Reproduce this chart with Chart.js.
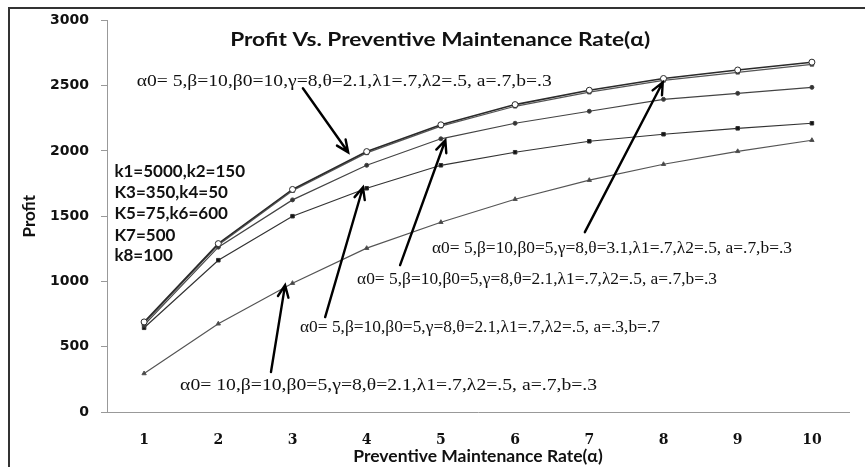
<!DOCTYPE html>
<html>
<head>
<meta charset="utf-8">
<script src="https://cdn.jsdelivr.net/npm/chart.js@4"></script>
<style>
  html, body { margin: 0; padding: 0; background: #fff; }
  #wrap { width: 865px; height: 467px; }
</style>
</head>
<body>
<div id="wrap"><canvas id="profitCanvas" width="865" height="467"></canvas></div>
<script>
// preventive maintenance rate (alpha)
const rates = ['1', '2', '3', '4', '5', '6', '7', '8', '9', '10'];

// profit per curve
const profitBeta010 = [690, 1290, 1705, 1995, 2200, 2355, 2465, 2555, 2620, 2680];
const profitTheta31 = [680, 1280, 1695, 1985, 2190, 2342, 2450, 2540, 2602, 2663];
const profitBase = [665, 1263, 1625, 1890, 2093, 2212, 2304, 2395, 2441, 2487];
const profitA3B7 = [645, 1163, 1500, 1714, 1890, 1990, 2074, 2128, 2173, 2212];
const profitAlpha010 = [295, 676, 987, 1255, 1454, 1630, 1776, 1898, 1997, 2082];

const profitTicks = [0, 500, 1000, 1500, 2000, 2500, 3000];

// labels in chart coordinates: x is the rate (1..10), y is profit.
// width = rendered width in px (the source figure is stretched sideways)
const serif = '16px "Liberation Serif"';
const notes = [
  { text: 'Profit Vs. Preventive Maintenance Rate(\u03b1)', x: 4.99, y: 2847, align: 'center', font: 'bold 19px Lato', width: 420 },
  { text: '\u03b10= 5,\u03b2=10,\u03b20=10,\u03b3=8,\u03b8=2.1,\u03bb1=.7,\u03bb2=.5, a=.7,b=.3', x: 0.90, y: 2533, align: 'left', font: serif, width: 415 },
  { text: '\u03b10= 5,\u03b2=10,\u03b20=5,\u03b3=8,\u03b8=3.1,\u03bb1=.7,\u03bb2=.5, a=.7,b=.3', x: 4.88, y: 1247, align: 'left', font: serif, width: 360 },
  { text: '\u03b10= 5,\u03b2=10,\u03b20=5,\u03b3=8,\u03b8=2.1,\u03bb1=.7,\u03bb2=.5, a=.7,b=.3', x: 3.87, y: 1010, align: 'left', font: serif, width: 360 },
  { text: '\u03b10= 5,\u03b2=10,\u03b20=5,\u03b3=8,\u03b8=2.1,\u03bb1=.7,\u03bb2=.5, a=.3,b=.7', x: 3.10, y: 643, align: 'left', font: serif, width: 360 },
  { text: '\u03b10= 10,\u03b2=10,\u03b20=5,\u03b3=8,\u03b8=2.1,\u03bb1=.7,\u03bb2=.5, a=.7,b=.3', x: 1.485, y: 199, align: 'left', font: serif, width: 417 },
  { text: 'k1=5000,k2=150', x: 0.60, y: 1844, align: 'left', font: 'bold 17px Lato' },
  { text: 'K3=350,k4=50', x: 0.60, y: 1684, align: 'left', font: 'bold 17px Lato' },
  { text: 'K5=75,k6=600', x: 0.60, y: 1523, align: 'left', font: 'bold 17px Lato' },
  { text: 'K7=500', x: 0.60, y: 1355, align: 'left', font: 'bold 17px Lato' },
  { text: 'k8=100', x: 0.60, y: 1202, align: 'left', font: 'bold 17px Lato' }
];

// arrows from each label to its curve
const arrows = [
  { from: [3.14, 2480], to: [3.75, 1990] },
  { from: [6.94, 1378], to: [7.99, 2526] },
  { from: [4.45, 1125], to: [5.06, 2082] },
  { from: [3.44, 727], to: [3.95, 1722] },
  { from: [2.71, 306], to: [2.90, 972] }
];

const notesPlugin = {
  id: 'notes',
  afterDraw(chart) {
    const ctx = chart.ctx;
    const xs = chart.scales.x;
    const ys = chart.scales.y;
    const px = v => xs.getPixelForValue(v - 1);
    const py = v => ys.getPixelForValue(v);

    ctx.save();
    ctx.fillStyle = '#111';
    ctx.textBaseline = 'middle';
    notes.forEach(n => {
      ctx.font = n.font;
      ctx.textAlign = n.align;
      const sx = n.width ? n.width / ctx.measureText(n.text).width : 1;
      ctx.save();
      ctx.translate(px(n.x), py(n.y));
      ctx.scale(sx, 1);
      ctx.fillText(n.text, 0, 0);
      ctx.restore();
    });

    ctx.strokeStyle = '#000';
    ctx.lineWidth = 2.4;
    ctx.lineCap = 'round';
    arrows.forEach(a => {
      const x1 = px(a.from[0]), y1 = py(a.from[1]);
      const x2 = px(a.to[0]), y2 = py(a.to[1]);
      const ang = Math.atan2(y2 - y1, x2 - x1);
      const head = 13;
      ctx.beginPath();
      ctx.moveTo(x1, y1);
      ctx.lineTo(x2, y2);
      ctx.moveTo(x2 - head * Math.cos(ang - 0.42), y2 - head * Math.sin(ang - 0.42));
      ctx.lineTo(x2, y2);
      ctx.lineTo(x2 - head * Math.cos(ang + 0.42), y2 - head * Math.sin(ang + 0.42));
      ctx.stroke();
    });

    // outer frame of the figure
    ctx.strokeStyle = '#333';
    ctx.lineWidth = 2;
    ctx.beginPath();
    ctx.moveTo(9, 470);
    ctx.lineTo(9, 8);
    ctx.lineTo(866, 8);
    ctx.stroke();
    ctx.restore();
  }
};

function series(data, color, width, style, radius, fill) {
  return {
    data,
    borderColor: color,
    borderWidth: width,
    pointStyle: style,
    pointRadius: radius,
    pointBackgroundColor: fill,
    pointBorderColor: color,
    pointBorderWidth: 1,
    tension: 0,
    fill: false
  };
}

new Chart(document.getElementById('profitCanvas'), {
  type: 'line',
  data: {
    labels: rates,
    datasets: [
      series(profitBeta010, '#2a2a2a', 1.6, 'circle', 3, '#fff'),
      series(profitTheta31, '#555', 1.2, 'rect', 2.5, '#333'),
      series(profitBase, '#444', 1.2, 'circle', 2, '#333'),
      series(profitA3B7, '#333', 1.2, 'rect', 2.5, '#111'),
      series(profitAlpha010, '#555', 1.2, 'triangle', 2.5, '#444')
    ]
  },
  options: {
    responsive: false,
    animation: false,
    layout: { padding: { left: 10, right: 16, top: 20, bottom: 0 } },
    plugins: {
      legend: { display: false },
      tooltip: { enabled: false },
      title: { display: false }
    },
    scales: {
      x: {
        offset: true,
        grid: { display: false, drawTicks: false },
        border: { display: true, color: '#999', width: 1 },
        ticks: { padding: 20, color: '#111', font: { family: 'DejaVu Serif', weight: 'bold', size: 14 } },
        title: {
          display: true,
          text: 'Preventive Maintenance Rate(\u03b1)',
          color: '#111',
          font: { family: 'Lato', weight: 'bold', size: 17.5 },
          padding: { top: 0, bottom: 0 }
        },
        afterFit(scale) { scale.height = 55; }
      },
      y: {
        min: 0,
        max: 3000,
        afterBuildTicks(scale) { scale.ticks = profitTicks.map(v => ({ value: v })); },
        grid: { drawOnChartArea: false, drawTicks: true, tickLength: 6, color: '#999' },
        border: { display: true, color: '#999', width: 1 },
        ticks: {
          padding: 12,
          color: '#111',
          font: { family: 'DejaVu Sans', weight: 'bold', size: 14 },
          callback: v => String(v)
        },
        title: {
          display: true,
          text: 'Profit',
          color: '#111',
          font: { family: 'Lato', weight: 'bold', size: 17 },
          padding: { top: 9, bottom: 0 }
        },
        afterFit(scale) { scale.width = 97; }
      }
    }
  },
  plugins: [notesPlugin]
});
</script>
</body>
</html>
